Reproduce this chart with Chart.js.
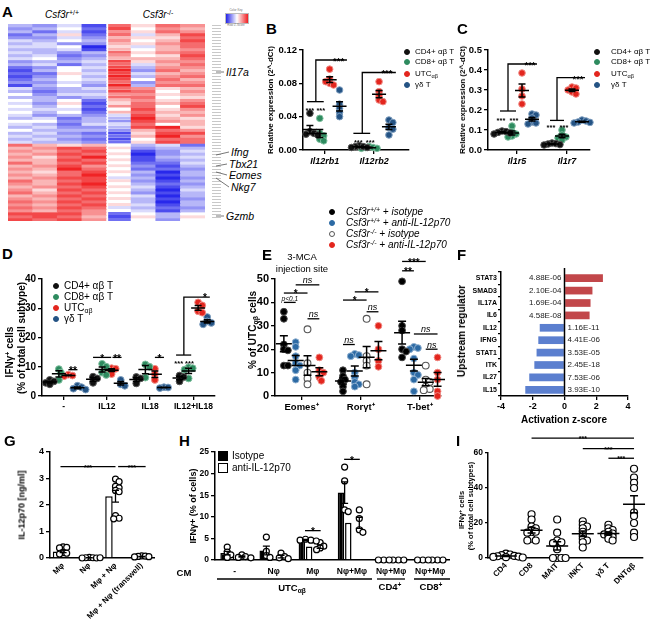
<!DOCTYPE html>
<html><head><meta charset="utf-8">
<script src="https://cdn.jsdelivr.net/npm/chart.js@4/dist/chart.umd.min.js"></script>
<style>
html,body{margin:0;padding:0;background:#fff;}
#root{position:relative;width:650px;height:626px;overflow:hidden;font-family:'Liberation Sans',Arial,sans-serif;color:#000;}
#root canvas{position:absolute;}
.t{position:absolute;white-space:nowrap;line-height:1;}
sub{font-size:0.7em;vertical-align:-0.3em;line-height:0;}
sup{font-size:0.7em;vertical-align:0.5em;line-height:0;}
</style></head><body><div id="root"></div>
<script>
// ================= DATA =================
// Panel A: heatmap (row z-scores), columns = samples
const A_samples = ['WT1','WT2','WT3','WT4','KO1','KO2','KO3','KO4'];
const A_z = [
[-1,-1.5,-0.5,-2.5,2,0.5,2,1.5],[-1.5,-1,0,-2,2.5,0,1.5,1],[-1,-2,-0.5,-2.5,1.5,0.5,2,1.5],
[-2,-1,0.5,-2,2,-0.5,1,2.5],[-1.5,-1.5,-0.5,-1.5,1,0.5,0.5,2],[-0.5,-1,0,-1,1.5,0,1,2.5],
[-1,-0.5,-1.5,-1.5,1,0.5,1.5,2],[-0.5,-0.5,0,-3,0.5,-0.5,1,2],[-1,-1,-0.5,-2.5,1,0,1,1.5],
[-0.5,-1,-1.5,-1,2,0.5,1.5,2],[-1,-0.5,-2,-1.5,1.5,0,0.5,2.5],[-0.5,0,-1.5,-1,1,1,1,2],
[-1.5,-1,-1,-0.5,2.5,0.5,1.5,1.5],[-1,-0.5,-2,-1,2,-0.5,1,2],[-2,-1.5,0,-0.5,2.5,-1,1.5,1.5],
[-2.5,-1,0,-1,3,-1.5,2,1],[-2,-2,0.5,-0.5,2.5,-0.5,1,1.5],[-2.5,-1.5,0,-1,3,-1,1.5,2],
[-2,-1,0,-0.5,2.5,0,2,1],[-1.5,-1.5,-0.5,-1,2,-1.5,1.5,1.5],[-2.5,-1,0,-1.5,3,-1,2,2],
[-0.5,-1.5,-1,-0.5,2,1.5,0.5,1],[-1,-2,-1,-1,2.5,2,0,1.5],[0,-1.5,-0.5,-0.5,1.5,1.5,0.5,1],
[-1,-1,-1.5,-1,2,2,0,0.5],[0,-1,0,-2,1,1.5,0.5,1.5],[-0.5,-1.5,0.5,-2.5,0.5,2,1,2],
[0,-1,0,-2,1.5,2,0,2.5],[-0.5,-0.5,-0.5,-2.5,0,2.5,0.5,1.5],[0,-1,0,-2,1,2,1,1],
[-0.5,-1.5,-1,-1.5,-0.5,2.5,0.5,1.5],[-1,-0.5,-2,-1,-1,3,1,0.5],[0,0,-1.5,-1,-1.5,2.5,1.5,1],
[-0.5,-1,-2,-0.5,-0.5,2,0,1],[-1,-0.5,-1.5,-1.5,-1,2.5,3,0.5],[0,-1,-1,-1,-1.5,1,2,1.5],
[-1,-0.5,-1.5,-2,-2.5,0.5,2.5,2.5],[-0.5,-1,-1,-1.5,-2,1,3,1.5],[-1,-0.5,-1.5,-2,-2.5,0,2,2],
[-0.5,-1,-1,-1.5,-2,0.5,2.5,2],[2,1,0.5,1,0,-1,-0.5,-2],[1,1.5,2.5,2,0.5,-1.5,-1,-1],
[1.5,1,2,2.5,0,-2.5,-1.5,-0.5],[1,1.5,2.5,2,0.5,-3,-1.5,-1],[1.5,0.5,2,3,0,-2.5,-1,-0.5],
[1,1,2.5,2,0.5,-2.5,-1.5,-1],[2,1,2,2.5,0,-2,-2,-0.5],[1,1.5,2.5,1.5,0.5,-1.5,-2.5,-1],
[1.5,1,3,2,0,-2,-2,-1.5],[1,0.5,2,2.5,0.5,-1,-3,-1],[1.5,1,2,3,0,-1.5,-2.5,-1],
[1,1.5,2.5,2.5,-0.5,-1,-3,-1.5],[2,1,2,2.5,0.5,-1.5,-2.5,-1],[1.5,1,2.5,3,0,-1,-2,-1.5],
[1,1.5,2,2.5,0.5,-0.5,-2.5,-1],[1.5,0.5,2.5,2,0,-1,-3,-0.5],[2,1,2,2.5,0.5,-1.5,-2.5,-1],
[1,1.5,2.5,2,0,-0.5,-3,-1],[1.5,1,2,2.5,0.5,-1,-2.5,-1.5],[2,1.5,2.5,2,0,-1,-3,-1],
[1.5,1,2,2.5,0.5,-0.5,-2.5,-1],[2,1.5,2.5,2,-0.5,-1,-2,-1.5],[1.5,1,2,1.5,0,-0.5,-2.5,-1],
[2.5,2.5,2.5,1.5,-2,0,-1,0],[2,2.5,2,1,-2.5,0.5,-1,0.5],[2.5,2,2.5,1.5,-2,0,-1.5,0]
];
const A_genes = ['Il17a','Ifng','Tbx21','Eomes','Nkg7','Gzmb'];

// Panel B
const B_genes = ['Il12rb1','Il12rb2'];
const B_CD4 = [[0.044,0.022,0.020,0.019,0.018],[0.005,0.004,0.004,0.003,0.003]];
const B_CD8 = [[0.038,0.020,0.017,0.013,0.011],[0.004,0.003,0.003,0.002,0.002]];
const B_UTC = [[0.097,0.085,0.080,0.078,0.082],[0.082,0.070,0.065,0.060,0.058]];
const B_GD  = [[0.072,0.055,0.050,0.045,0.040],[0.036,0.033,0.027,0.025,0.018]];
const B_yTicks = [0,0.04,0.08,0.12];

// Panel C
const C_genes = ['Il1r5','Il1r7'];
const C_CD4 = [[0.095,0.092,0.088,0.085,0.080],[0.035,0.032,0.030,0.027,0.025]];
const C_CD8 = [[0.120,0.090,0.080,0.070,0.065],[0.100,0.075,0.065,0.060,0.050]];
const C_UTC = [[0.385,0.305,0.270,0.230],[0.315,0.310,0.300,0.290,0.280]];
const C_GD  = [[0.180,0.175,0.160,0.140,0.135,0.130],[0.150,0.145,0.140,0.138,0.135]];
const C_yTicks = [0,0.1,0.2,0.3,0.4,0.5];

// Panel D
const D_stim = ['-','IL12','IL18','IL12+IL18'];
const D_CD4 = [[5.5,5.0,4.5,4.0],[6.6,6.0,4.5],[6.5,6.0,4.3],[7.0,6.5,5.0]];
const D_CD8 = [[9.2,8.0,5.5],[11.0,10.0,8.0,7.2],[10.8,10.0,6.3],[9.8,9.5,9.0,6.0]];
const D_UTC = [[7.3,7.0,6.8],[9.5,9.3,9.0,7.5],[9.3,7.5,5.5],[32.0,31.0,29.0,28.5]];
const D_GD  = [[3.5,3.0,2.5,2.2],[5.5,4.0,3.5],[3.0,2.9,2.7],[27.0,25.5,25.0,24.5]];
const D_yTicks = [0,10,20,30,40];

// Panel E
const E_cells = ['Eomes\u207A','Ror\u03B3t\u207A','T-bet\u207A'];
const E_wtIso  = [[36,33,22,20,19.5,13,13],[11,8.5,7,6,4,2],[49,30,28,20,19,16.5]];
const E_wtAnti = [[23,21,17,14,13,11,7],[18,17.5,17,10,8,6,5,4],[21,20.5,20,16,10,9,7,2]];
const E_koIso  = [[28.5,14,10,7.5,5],[33,17,15,13,5],[13,7,6,4,3,2.5]];
const E_koAnti = [[16.5,11,10,8,6.5],[30,20,15,12.5],[16.5,10,7,2,0]];
const E_yTicks = [0,10,20,30,40,50];

// Panel F
const F_regs = ['STAT3','SMAD3','IL17A','IL6','IL12','IFNG','STAT1','ITK','IL27','IL15'];
const F_z = [2.42,1.76,1.64,1.58,-1.56,-1.65,-1.76,-1.9,-2.22,-2.47];
const F_p = ['4.88E-06','2.10E-04','1.69E-04','4.58E-08','1.16E-11','4.41E-06','3.53E-05','2.45E-18','7.53E-06','3.93E-10'];
const F_xTicks = [-4,-2,0,2,4];

// Panel G
const G_cats = ['M\u03C6','N\u03C6','M\u03C6 + N\u03C6','M\u03C6 + N\u03C6 (transwell)'];
const G_mean = [0.25,0.01,2.33,0.05];
const G_sem  = [0.05,0.005,0.22,0.01];
const G_dots = [[0.42,0.40,0.38,0.20,0.18,0.15],[0.02,0.01,0.01,0.0,0.0,0.01],[2.98,2.88,2.70,2.65,2.55,2.50,1.60,1.50,1.48],[0.08,0.07,0.06,0.05,0.04]];
const G_yTicks = [0,1,2,3,4];

// Panel H
const H_cats = ['-','N\u03C6','M\u03C6','N\u03C6+M\u03C6','N\u03C6+M\u03C6','N\u03C6+M\u03C6'];
const H_isoMean  = [1.6,2.2,4.6,15.6,0,0];
const H_isoSem   = [0.4,1.0,0.15,2.5,0,0];
const H_antiMean = [0.8,0.8,3.1,8.6,0,0];
const H_antiSem  = [0.15,0.3,0.4,1.3,0,0];
const H_isoDots  = [[3.0,1.8,1.2,0.6],[5.3,2.0,1.0,0.6],[4.8,4.6,4.6,4.4],[21.5,18.3,11.6,11.2],[0,0,0],[0,0,0]];
const H_antiDots = [[1.2,0.8,0.6,0.5],[1.6,0.8,0.5,0.3],[4.0,3.2,2.8,2.4],[11.6,9.6,7.0,6.4],[0,0,0],[0,0,0]];
const H_yTicks = [0,5,10,15,20,25];

// Panel I
const I_cells = ['CD4','CD8','MAIT','iNKT','\u03B3\u03B4 T','DNT\u03B1\u03B2'];
const I_vals = [
 [2.5,2.0,1.6,1.2,1.0,0.8,0.6,0.5,0.3],
 [25,22,18,17,16,15,14.5,11,10,10],
 [22,14.5,10,9,8.5,5,0,0,0,0],
 [21,19,18,17,15,13,11,10,9,6],
 [19,17,16,15,14,13.5,13,12,11,10],
 [51,46,43,40,26,24,20,14.5,12]
];
const I_yTicks = [0,20,40,60];

// significance annotations (data units)
function L(x1,x2,y,text,o){return Object.assign({lines:[[[x1,y],[x2,y]]],text,tx:(x1+x2)/2,ty:y},o||{});}
function S(x,y,text,o){return Object.assign({lines:[],text,tx:x,ty:y,mid:true},o||{});}
function BR(x1,x2,y1,xv,y2,x3,text,tx){return {lines:[[[x1,y1],[x2,y1]],[[xv,y1],[xv,y2],[x3,y2]]],text,tx,ty:y2};}
const NS = {style:'italic',fs:9};
const SM = {fs:7.5};
const B_sig = [S(0.7,0.049,'***',SM),S(0.92,0.049,'***',SM),BR(0.64,0.98,0.058,0.82,0.108,1.45,'***',1.28),
  S(1.68,0.011,'***',SM),S(1.92,0.011,'***',SM),BR(1.58,1.92,0.02,1.76,0.093,2.44,'***',2.26)];
const C_sig = [S(0.68,0.158,'***',SM),S(0.94,0.158,'***',SM),BR(0.66,0.98,0.195,0.82,0.43,1.4,'***',1.26),
  S(1.68,0.12,'***',SM),S(1.94,0.12,'***',SM),BR(1.66,1.94,0.148,1.8,0.362,2.36,'***',2.22)];
const D_sig = [L(1.11,1.32,9,'**'),L(1.68,2.1,13.2,'*'),L(2.13,2.34,13.2,'**'),L(3.11,3.32,13.2,'*'),
  S(3.66,11.6,'***',SM),S(3.91,11.6,'***',SM),BR(3.6,3.95,14,3.78,33.8,4.38,'*',4.27)];
const E_sig = [L(0.7,0.9,40,'p<0.1',{style:'italic',fs:6.5}),L(0.7,1.1,44,'*'),L(0.9,1.3,47.5,'ns',NS),L(1.1,1.3,33,'ns',NS),
  L(1.7,1.9,22,'ns',NS),L(1.7,2.1,41,'*'),L(1.9,2.3,44.5,'*'),L(2.1,2.3,36,'ns',NS),
  L(2.7,3.1,57.5,'***'),L(2.7,2.9,53.5,'**'),L(2.9,3.3,26.5,'ns',NS),L(3.1,3.3,20,'ns',NS)];
const G_sig = [L(-0.1,2,3.45,'***',{fs:7}),L(2.1,3.15,3.45,'***',{fs:7})];
const H_sig = [L(1.8,2.2,6.8,'*'),L(2.8,3.2,23.3,'*')];
const I_sig = [L(1,5,68.5,'***',{fs:7}),L(3,5,62.5,'***',{fs:7}),L(4,5,57,'***',{fs:7})];

// ================= RENDER =================
const FONT = "'Liberation Sans', Arial, sans-serif";
Chart.defaults.font.family = FONT;
Chart.defaults.color = '#000';
const root = document.getElementById('root');
const COL = {cd4:'#111111', cd8:'#2e8b5f', utc:'#e3261e', gd:'#245384', eblue:'#2c6aa4'};

function mkCanvas(l,t,w,h){const c=document.createElement('canvas');c.width=w;c.height=h;c.style.left=l+'px';c.style.top=t+'px';c.style.width=w+'px';c.style.height=h+'px';root.appendChild(c);return c;}
function txt(html,x,y,css,ax){const d=document.createElement('div');d.className='t';d.innerHTML=html;d.style.left=x+'px';d.style.top=y+'px';const tx=ax==='c'?'-50%':ax==='r'?'-100%':'0';d.style.transform='translate('+tx+',-50%)';d.style.cssText+=(css||'');root.appendChild(d);return d;}
function vtxt(html,x,y,css){const d=document.createElement('div');d.className='t';d.innerHTML=html;d.style.left=x+'px';d.style.top=y+'px';d.style.transform='translate(-50%,-50%) rotate(-90deg)';d.style.cssText+=(css||'');root.appendChild(d);return d;}
function dot(cx,cy,r,fill,stroke){const d=document.createElement('div');d.style.cssText='position:absolute;left:'+(cx-r)+'px;top:'+(cy-r)+'px;width:'+(2*r)+'px;height:'+(2*r)+'px;border-radius:50%;background:'+fill+';box-sizing:border-box;border:1px solid '+stroke+';';root.appendChild(d);}
function letter(s,x,y){txt(s,x,y,'font-weight:bold;font-size:15px;');}

function baseOpts(padT,padR){return {responsive:false,maintainAspectRatio:false,animation:false,devicePixelRatio:1,events:[],
  layout:{padding:{top:padT,right:padR,left:0,bottom:0}},plugins:{legend:{display:false},tooltip:{enabled:false}}};}
function yLin(min,max,ticks,W,font,fmt,tl){return {type:'linear',min,max,
  afterBuildTicks:s=>{s.ticks=ticks.map(v=>({value:v}));},afterFit:s=>{s.width=W;},
  ticks:{font,padding:2,color:'#000',callback:fmt||(v=>String(v))},
  grid:{display:true,drawOnChartArea:false,drawTicks:true,tickLength:tl||4,color:'#000',lineWidth:1.3},
  border:{display:true,color:'#000',width:1.5}};}
function xLin(min,max,pos,labels,H,font,o){o=o||{};return {type:'linear',min,max,
  afterBuildTicks:s=>{s.ticks=pos.map(v=>({value:v}));},afterFit:s=>{s.height=H;},
  ticks:{font,padding:o.pad==null?2:o.pad,autoSkip:false,color:'#000',maxRotation:o.rot||0,minRotation:o.rot||0,callback:(v,i)=>labels[i]},
  grid:{display:true,drawOnChartArea:false,drawTicks:o.noTicks?false:true,tickLength:4,color:'#000',lineWidth:1.3},
  border:{display:true,color:'#000',width:1.5}};}

function meanSem(a){const n=a.length,m=a.reduce((s,v)=>s+v,0)/n;const sd=n>1?Math.sqrt(a.reduce((s,v)=>s+(v-m)*(v-m),0)/(n-1)):0;return {mean:m,sem:sd/Math.sqrt(n)};}
function swarm(vals,cx,pxX,pxY,r,spread,minD){const pts=[];const step=r*(spread||0.6)/pxX;const md=r*(minD||1.15);
  for(const v of vals){for(let j=0;j<40;j++){const k=j===0?0:(j%2?(j+1)/2:-j/2);const x=cx+k*step;
    if(pts.every(p=>Math.hypot((p.x-x)*pxX,(p.y-v)*pxY)>=md)){pts.push({x,y:v});break;}}}
  return pts;}

function statsPlugin(groups,xId,cap,lw){return {id:'stats',afterDatasetsDraw(chart){const ctx=chart.ctx,xs=chart.scales[xId],ys=chart.scales.y;
  ctx.save();ctx.strokeStyle='#000';ctx.lineWidth=lw||1.5;
  for(const g of groups){if(!g.sem&&!g.half)continue;const x=xs.getPixelForValue(g.x),ym=ys.getPixelForValue(g.mean),
    yt=ys.getPixelForValue(g.mean+g.sem),yb=ys.getPixelForValue(Math.max(ys.min,g.mean-g.sem));
    ctx.beginPath();if(g.half){ctx.moveTo(x-g.half,ym);ctx.lineTo(x+g.half,ym);}
    if(g.sem){ctx.moveTo(x,yt);ctx.lineTo(x,yb);ctx.moveTo(x-cap,yt);ctx.lineTo(x+cap,yt);ctx.moveTo(x-cap,yb);ctx.lineTo(x+cap,yb);}
    ctx.stroke();}
  ctx.restore();}};}
function sigPlugin(items,xId,fs0){return {id:'sig',afterDraw(chart){const ctx=chart.ctx,xs=chart.scales[xId],ys=chart.scales.y;
  ctx.save();ctx.strokeStyle='#000';ctx.fillStyle='#000';ctx.lineWidth=1.3;ctx.textAlign='center';ctx.textBaseline='alphabetic';
  for(const it of items){for(const pl of it.lines){ctx.beginPath();pl.forEach((p,k)=>{const px=xs.getPixelForValue(p[0]),py=ys.getPixelForValue(p[1]);k?ctx.lineTo(px,py):ctx.moveTo(px,py);});ctx.stroke();}
    if(it.text){const fs=it.fs||fs0||10;const st=it.style||'bold';ctx.font=st+' '+fs+'px '+FONT;
      const px=xs.getPixelForValue(it.tx),py=ys.getPixelForValue(it.ty);const stars=/^\*+$/.test(it.text);
      let by;if(it.mid){by=stars?py+0.55*fs:py+0.35*fs;}else{by=stars?py+0.42*fs:py-1.5;}
      ctx.fillText(it.text,px,by);}}
  ctx.restore();}};}

function dotChart(p){
  const c=mkCanvas(p.left,p.top,p.w,p.h);
  const aw=p.w-p.yW-p.padR,ah=p.h-p.xH-p.padT;const pxX=aw/(p.xmax-p.xmin),pxY=ah/(p.ymax-p.ymin);
  const groups=[];
  const datasets=p.series.map((s,si)=>{const data=[];
    s.values.forEach((vals,ci)=>{const cx=p.catPos[ci]+(p.offsets?p.offsets[si]:0);
      data.push(...swarm(vals,cx,pxX,pxY,p.r,p.spread,p.minD));const ms=meanSem(vals);groups.push({x:cx,mean:ms.mean,sem:ms.sem,half:p.half});});
    return {data,pointRadius:p.r,pointHoverRadius:p.r,pointBackgroundColor:s.fill,pointBorderColor:s.stroke,pointBorderWidth:s.bw==null?1:s.bw,clip:false};});
  const o=baseOpts(p.padT,p.padR);
  o.scales={x:xLin(p.xmin,p.xmax,p.catPos,p.cats,p.xH,p.xFont,p.xOpt),y:yLin(p.ymin,p.ymax,p.yTicks,p.yW,p.yFont,p.yFmt,p.yTl)};
  return new Chart(c,{type:'scatter',data:{datasets},options:o,plugins:[statsPlugin(groups,'x',p.cap,1.5),sigPlugin(p.sig,'x',p.sigFs)]});
}

// ---------- A: heatmap ----------
function zColor(v){const t=Math.max(-1,Math.min(1,v/3));const a=Math.abs(t);
  if(t<0)return 'rgb('+Math.round(255-a*215)+','+Math.round(255-a*215)+','+Math.round(255-a*20)+')';
  return 'rgb('+Math.round(255-a*15)+','+Math.round(255-a*220)+','+Math.round(255-a*218)+')';}
(function(){
  const c=mkCanvas(8,24,197,197);
  const datasets=A_z.map(row=>({data:row.map(()=>1),backgroundColor:row.map(zColor),
    borderWidth:ctx=>ctx.dataIndex===4?{left:2,right:0,top:0,bottom:0}:0,borderColor:'#fff',borderSkipped:false,
    barPercentage:1,categoryPercentage:1}));
  const o=baseOpts(0,0);
  o.scales={x:{stacked:true,display:false},y:{stacked:true,display:false,min:0,max:A_z.length,reverse:true}};
  new Chart(c,{type:'bar',data:{labels:A_samples,datasets},options:o});
})();
letter('A',2,11);
txt('<i>Csf3r</i><sup>+/+</sup>',62,15,'font-size:10px;','c');
txt('<i>Csf3r</i><sup>-/-</sup>',158,15,'font-size:10px;','c');
// colour key
(function(){const d=document.createElement('div');d.style.cssText='position:absolute;left:225px;top:13px;width:22px;height:9px;background:linear-gradient(to right,#2323e8,#ffffff,#f01e21);border:0.5px solid #bbb;';root.appendChild(d);
 txt('Color Key',236,10,'font-size:3px;color:#777;','c');txt('Row Z-Score',236,25,'font-size:3px;color:#777;','c');
 const r=document.createElement('div');r.style.cssText='position:absolute;left:212px;top:25px;width:9px;height:195px;background:repeating-linear-gradient(to bottom,#c8c8c8 0 1px,transparent 1px 3px);';root.appendChild(r);})();
const A_lab = [[226,72],[231,152],[229,164],[229,175],[231,187],[226,216]];
A_genes.forEach((g,i)=>txt(g,A_lab[i][0],A_lab[i][1],'font-size:10.5px;font-style:italic;'));

// ---------- B ----------
letter('B',266,28);
dotChart({left:258,top:40,w:155,h:130,yW:45,xH:20,padT:10,padR:3,xmin:0.56,xmax:2.7,ymin:0,ymax:0.12,
  cats:B_genes,catPos:[1,2],offsets:[-0.3,-0.1,0.1,0.3],yTicks:B_yTicks,yFmt:v=>v.toFixed(2),
  yFont:{size:9.5,weight:'bold'},xFont:{size:9,weight:'bold',style:'italic'},r:3.3,half:7,cap:3.5,sig:B_sig,sigFs:9.5,
  series:[{values:B_CD4,fill:COL.cd4,stroke:'#555'},{values:B_CD8,fill:COL.cd8,stroke:'#7fbf9f'},{values:B_UTC,fill:COL.utc,stroke:'#f08a84'},{values:B_GD,fill:COL.gd,stroke:'#7f9fc0'}]});
vtxt('Relative expression (2^-dCt)',271,100,'font-size:8px;font-weight:bold;');
function smallLegend(x,tx){const ys=[52,62,74,85];const lab=['CD4+ \u03B1\u03B2 T','CD8+ \u03B1\u03B2 T','UTC<sub>\u03B1\u03B2</sub>','\u03B3\u03B4 T'];
  const cs=[COL.cd4,COL.cd8,COL.utc,COL.gd];ys.forEach((y,i)=>{dot(x,y,3.3,cs[i],cs[i]);txt(lab[i],tx,y,'font-size:8px;');});}
smallLegend(407,415);

// ---------- C ----------
letter('C',457,28);
dotChart({left:445,top:40,w:150,h:130,yW:43,xH:20,padT:10,padR:5,xmin:0.42,xmax:2.46,ymin:0,ymax:0.5,
  cats:C_genes,catPos:[1,2],offsets:[-0.3,-0.1,0.1,0.3],yTicks:C_yTicks,yFmt:v=>v.toFixed(1),
  yFont:{size:9.5,weight:'bold'},xFont:{size:9,weight:'bold',style:'italic'},r:3.3,half:7,cap:3.5,sig:C_sig,sigFs:9.5,
  series:[{values:C_CD4,fill:COL.cd4,stroke:'#555'},{values:C_CD8,fill:COL.cd8,stroke:'#7fbf9f'},{values:C_UTC,fill:COL.utc,stroke:'#f08a84'},{values:C_GD,fill:COL.gd,stroke:'#7f9fc0'}]});
vtxt('Relative expression (2^-dCt)',463,100,'font-size:8px;font-weight:bold;');
smallLegend(597,611);

// ---------- D ----------
letter('D',2,253);
dotChart({left:0,top:265,w:220,h:150,yW:42,xH:19,padT:14,padR:5,xmin:0.5,xmax:4.5,ymin:0,ymax:40,
  cats:D_stim,catPos:[1,2,3,4],offsets:[-0.32,-0.11,0.11,0.32],yTicks:D_yTicks,
  yFont:{size:10,weight:'bold'},xFont:{size:8.5,weight:'bold'},r:3.4,half:7,cap:3.5,sig:D_sig,sigFs:10,
  series:[{values:D_CD4,fill:COL.cd4,stroke:'#555'},{values:D_CD8,fill:COL.cd8,stroke:'#7fbf9f'},{values:D_UTC,fill:COL.utc,stroke:'#f08a84'},{values:D_GD,fill:COL.gd,stroke:'#7f9fc0'}]});
vtxt('IFN\u03B3<sup>+</sup> cells',10,352,'font-size:10px;font-weight:bold;');
vtxt('(% of total cell subtype)',22,338,'font-size:10px;font-weight:bold;');
(function(){const ys=[286,297,308,319];const lab=['CD4+ \u03B1\u03B2 T','CD8+ \u03B1\u03B2 T','UTC<sub>\u03B1\u03B2</sub>','\u03B3\u03B4 T'];
 const cs=[COL.cd4,COL.cd8,COL.utc,COL.gd];ys.forEach((y,i)=>{dot(56,y,3.4,cs[i],cs[i]);txt(lab[i],64,y,'font-size:10px;');});})();

// ---------- E ----------
letter('E',262,254);
dotChart({left:225,top:245,w:220,h:170,yW:50,xH:19,padT:34,padR:2,xmin:0.55,xmax:3.35,ymin:0,ymax:50,
  cats:E_cells,catPos:[1,2,3],offsets:[-0.3,-0.1,0.1,0.3],yTicks:E_yTicks,
  yFont:{size:11,weight:'bold'},xFont:{size:9.5,weight:'bold'},r:3.4,half:8,cap:4,sig:E_sig,sigFs:10,
  series:[{values:E_wtIso,fill:'#000',stroke:'#444'},{values:E_wtAnti,fill:COL.eblue,stroke:'#8fb0d0'},{values:E_koIso,fill:'#fff',stroke:'#555',bw:1.1},{values:E_koAnti,fill:COL.utc,stroke:'#f08a84'}]});
vtxt('% of UTC<sub>\u03B1\u03B2</sub> cells',253,330,'font-size:10px;font-weight:bold;');
txt('3-MCA',302,257,'font-size:9.5px;','c');
txt('injection site',302,269,'font-size:9.5px;','c');
(function(){const ys=[212,223,234,245];
 const lab=['<i>Csf3r<sup>+/+</sup> + isotype</i>','<i>Csf3r<sup>+/+</sup> + anti-IL-12p70</i>','<i>Csf3r<sup>-/-</sup> + isotype</i>','<i>Csf3r<sup>-/-</sup> + anti-IL-12p70</i>'];
 const f=['#000',COL.eblue,'#fff',COL.utc],s=['#000',COL.eblue,'#555',COL.utc];
 ys.forEach((y,i)=>{dot(332,y,3.4,f[i],s[i]);txt(lab[i],346,y,'font-size:10px;');});})();

// ---------- F ----------
letter('F',457,254);
(function(){
  const c=mkCanvas(455,262,180,175);
  const o=baseOpts(10,7);o.indexAxis='y';
  o.scales={x:{type:'linear',min:-4,max:4,afterBuildTicks:s=>{s.ticks=F_xTicks.map(v=>({value:v}));},afterFit:s=>{s.height=41;},
      ticks:{font:{size:9,weight:'bold'},padding:1,color:'#000'},grid:{display:true,drawOnChartArea:false,tickLength:4,color:'#000',lineWidth:1.3},border:{display:true,color:'#000',width:1.5}},
    y:{afterFit:s=>{s.width=46;},ticks:{font:{size:7,weight:'bold'},padding:1,color:'#000'},grid:{display:true,drawOnChartArea:false,tickLength:3,color:'#000',lineWidth:1.3},border:{display:true,color:'#000',width:1.5}}};
  const fPlug={id:'fz',afterDatasetsDraw(chart){const ctx=chart.ctx,xs=chart.scales.x,a=chart.chartArea;const x0=xs.getPixelForValue(0);
    ctx.save();ctx.strokeStyle='#000';ctx.lineWidth=1.5;ctx.beginPath();ctx.moveTo(x0,a.top-4);ctx.lineTo(x0,a.bottom);ctx.stroke();
    ctx.font='8px '+FONT;ctx.fillStyle='#222';ctx.textBaseline='middle';
    chart.getDatasetMeta(0).data.forEach((b,i)=>{if(F_z[i]>0){ctx.textAlign='right';ctx.fillText(F_p[i],x0-3,b.y);}else{ctx.textAlign='left';ctx.fillText(F_p[i],x0+3,b.y);}});
    ctx.restore();}};
  new Chart(c,{type:'bar',data:{labels:F_regs,datasets:[{data:F_z,backgroundColor:F_z.map(v=>v>0?'#c2474a':'#5b7fcf'),borderWidth:0,barPercentage:0.62,categoryPercentage:1}]},options:o,plugins:[fPlug]});
})();
vtxt('Upstream regulator',462,331,'font-size:10px;font-weight:bold;');
txt('Activation z-score',564,420,'font-size:10px;font-weight:bold;','c');

// ---------- G ----------
letter('G',4,440);
(function(){
  const c=mkCanvas(0,440,160,186);const aw=105,ah=106;const pxX=aw/4,pxY=ah/4;
  const dots=[];G_dots.forEach((v,i)=>dots.push(...swarm(v,i,pxX,pxY,3,0.6,1.2)));
  const o=baseOpts(12,5);
  o.scales={x:{type:'category',afterFit:s=>{s.height=68;},ticks:{font:{size:8,weight:'bold'},padding:3,maxRotation:45,minRotation:45,autoSkip:false,color:'#000'},
      grid:{display:true,drawOnChartArea:false,drawTicks:false,color:'#000'},border:{display:true,color:'#000',width:1.5}},
    xd:{type:'linear',display:false,min:-0.5,max:3.5},
    y:yLin(0,4,G_yTicks,50,{size:9,weight:'bold'})};
  const groups=G_mean.map((m,i)=>({x:i,mean:m,sem:G_sem[i],half:0}));
  new Chart(c,{data:{labels:G_cats,datasets:[
    {type:'bar',data:G_mean,backgroundColor:'#fff',borderColor:'#000',borderWidth:1.5,barPercentage:0.57,categoryPercentage:1,order:2},
    {type:'scatter',xAxisID:'xd',data:dots,pointRadius:3,pointBackgroundColor:'#fff',pointBorderColor:'#000',pointBorderWidth:1.2,clip:false,order:1}]},
    options:o,plugins:[statsPlugin(groups,'xd',3.5,1.3),sigPlugin(G_sig,'xd',7)]});
})();
vtxt('IL-12p70 [ng/ml]',22,505,'font-size:9px;font-weight:bold;');

// ---------- H ----------
letter('H',179,440);
(function(){
  const c=mkCanvas(175,440,280,186);const aw=235,ah=108;const pxX=aw/6,pxY=ah/25;const off=0.1875;
  const d1=[],d2=[];H_isoDots.forEach((v,i)=>d1.push(...swarm(v,i-off,pxX,pxY,3,0.6,1.3)));H_antiDots.forEach((v,i)=>d2.push(...swarm(v,i+off,pxX,pxY,3,0.6,1.3)));
  const o=baseOpts(12,5);
  o.scales={x:{type:'category',afterFit:s=>{s.height=66;},ticks:{font:{size:8.5,weight:'bold'},padding:7,maxRotation:0,autoSkip:false,color:'#000'},
      grid:{display:true,drawOnChartArea:false,drawTicks:false,color:'#000'},border:{display:true,color:'#000',width:1.5}},
    xd:{type:'linear',display:false,min:-0.5,max:5.5},
    y:yLin(0,25,H_yTicks,40,{size:8.5,weight:'bold'})};
  const groups=[];H_isoMean.forEach((m,i)=>groups.push({x:i-off,mean:m,sem:H_isoSem[i],half:0}));H_antiMean.forEach((m,i)=>groups.push({x:i+off,mean:m,sem:H_antiSem[i],half:0}));
  new Chart(c,{data:{labels:H_cats,datasets:[
    {type:'bar',data:H_isoMean,backgroundColor:'#000',borderColor:'#000',borderWidth:1.5,barPercentage:0.88,categoryPercentage:0.75,order:3},
    {type:'bar',data:H_antiMean,backgroundColor:'#fff',borderColor:'#000',borderWidth:1.5,barPercentage:0.88,categoryPercentage:0.75,order:3},
    {type:'scatter',xAxisID:'xd',data:d1,pointRadius:3,pointBackgroundColor:'#fff',pointBorderColor:'#000',pointBorderWidth:1.2,clip:false,order:1},
    {type:'scatter',xAxisID:'xd',data:d2,pointRadius:3,pointBackgroundColor:'#fff',pointBorderColor:'#000',pointBorderWidth:1.2,clip:false,order:1}]},
    options:o,plugins:[statsPlugin(groups,'xd',3.5,1.3),sigPlugin(H_sig,'xd',10)]});
})();
vtxt('IFN\u03B3+ (% of cells)',193,506,'font-size:9px;font-weight:bold;');
txt('CM',184,573,'font-size:9.5px;font-weight:bold;','c');
(function(){const d=document.createElement('div');d.style.cssText='position:absolute;left:218px;top:451px;width:10px;height:10px;background:#000;';root.appendChild(d);
 const e=document.createElement('div');e.style.cssText='position:absolute;left:218px;top:463px;width:10px;height:10px;background:#fff;border:1.3px solid #000;box-sizing:border-box;';root.appendChild(e);
 txt('Isotype',232,456,'font-size:10px;');txt('anti-IL-12p70',232,468,'font-size:10px;');
 txt('UTC<sub>\u03B1\u03B2</sub>',292,588,'font-size:9.5px;font-weight:bold;','c');
 txt('CD4<sup>+</sup>',390,587,'font-size:9.5px;font-weight:bold;','c');
 txt('CD8<sup>+</sup>',431,587,'font-size:9.5px;font-weight:bold;','c');})();

// ---------- I ----------
letter('I',456,440);
dotChart({left:455,top:425,w:195,h:201,yW:33,xH:68,padT:28,padR:7,xmin:-0.7,xmax:5.35,ymin:0,ymax:60,
  cats:I_cells,catPos:[0,1,2,3,4,5],offsets:null,yTicks:I_yTicks,yTl:3,
  yFont:{size:8.5,weight:'bold'},xFont:{size:8,weight:'bold'},xOpt:{rot:45,noTicks:true,pad:3},r:3.5,half:11,cap:4,spread:0.6,minD:1.0,sig:I_sig,sigFs:7,
  series:[{values:I_vals,fill:'#fff',stroke:'#000',bw:1.2}]});
vtxt('IFN\u03B3<sup>+</sup> cells',462,510,'font-size:7.5px;font-weight:bold;');
vtxt('(% of total cell subtypes)',471,506,'font-size:7.5px;font-weight:bold;');

// ---------- overlay lines ----------
(function(){const ns='http://www.w3.org/2000/svg';const svg=document.createElementNS(ns,'svg');svg.setAttribute('width','650');svg.setAttribute('height','626');
 svg.style.cssText='position:absolute;left:0;top:0;pointer-events:none;';root.appendChild(svg);
 function ln(x1,y1,x2,y2,c,w){const l=document.createElementNS(ns,'line');l.setAttribute('x1',x1);l.setAttribute('y1',y1);l.setAttribute('x2',x2);l.setAttribute('y2',y2);l.setAttribute('stroke',c);l.setAttribute('stroke-width',w);svg.appendChild(l);}
 [[216,72,224,72],[216,155,229,152],[216,166,227,164],[216,172,227,175],[216,178,229,187],[216,216,224,216]].forEach(a=>ln(a[0],a[1],a[2],a[3],'#555',0.8));
 ln(217,579,372,579,'#000',1.3);ln(377,579,405,579,'#000',1.3);ln(414,579,450,579,'#000',1.3);
})();
</script></body></html>
